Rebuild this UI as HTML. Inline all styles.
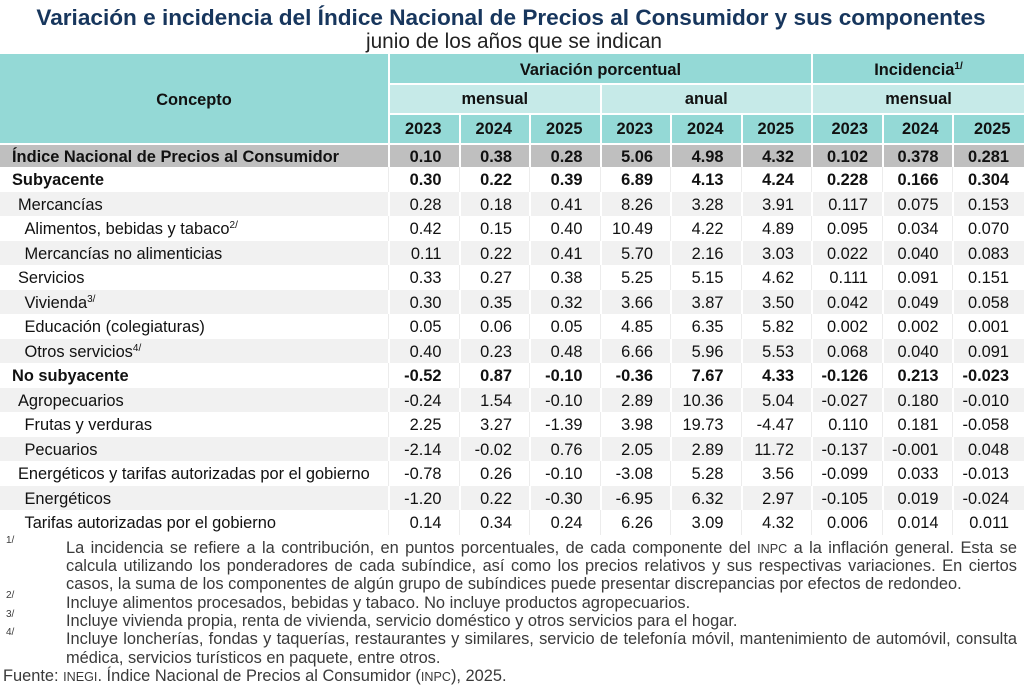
<!DOCTYPE html>
<html lang="es">
<head>
<meta charset="utf-8">
<style>
html,body{margin:0;padding:0}
body{width:1024px;height:689px;overflow:hidden;background:#fff;font-family:"Liberation Sans",Arial,Helvetica,sans-serif;color:#111;position:relative}
.a{position:absolute;white-space:nowrap}
.title{left:0;top:5.2px;width:1022px;text-align:center;font-size:22.6px;line-height:26px;font-weight:bold;color:#17365d}
.sub{left:0;top:30.2px;width:1028px;text-align:center;font-size:20.8px;line-height:24px;color:#222}
.hd{position:absolute;background:#94d9d6;font-weight:bold;font-size:16.4px;text-align:center;box-sizing:border-box;white-space:nowrap;color:#111}
.lt{background:#c6eae8}
.yr{top:114.5px;height:28.5px;line-height:28.5px;padding-top:.5px;text-align:right;padding-right:17px}
.yi{padding-right:13.5px}
sup{font-size:10px;line-height:0;vertical-align:6px}
.r{position:absolute;left:0;width:1024px;height:24.5px;line-height:24.5px;font-size:16.4px}
.r div{position:absolute;top:0;height:100%;box-sizing:border-box;white-space:nowrap;padding-top:1px}
.r .n{left:0;width:389px}
.r .v{width:71.5px;text-align:right;padding-right:18px}
.r .vi{padding-right:14.5px}
.g{background:#f1f1f1}
.w{background:#fff}
.k{background:#bfbfbf}
.g .v,.k .v{border-left:2px solid #fff}
.w .v{border-left:1px solid #ececec}
.b{font-weight:bold}
.c1{left:388px}.c2{left:458.5px}.c3{left:529px}.c4{left:599.5px}.c5{left:670px}.c6{left:740.5px}.c7{left:811px}.c8{left:881.5px}.c9{left:952px}
.i0{padding-left:12px}.i1{padding-left:18px}.i2{padding-left:24.5px}
.fn{position:absolute;left:66px;width:951px;font-size:16.4px;line-height:18px;color:#3a3a3a;white-space:nowrap}
.j{text-align:justify;text-align-last:justify;white-space:normal;height:18px;overflow:hidden}
.mk{position:absolute;left:6px;font-size:10px;line-height:12px;color:#3a3a3a}
.sc{font-size:12.6px}
</style>
</head>
<body>

<div class="a title">Variación e incidencia del Índice Nacional de Precios al Consumidor y sus componentes</div>
<div class="a sub">junio de los años que se indican</div>

<!-- Header -->
<div class="hd" style="left:0;top:54px;width:388px;height:89px;line-height:89px;padding-top:2px">Concepto</div>
<div class="hd" style="left:390px;top:54px;width:421px;height:29px;line-height:29px;padding-top:2px">Variación porcentual</div>
<div class="hd" style="left:813px;top:54px;width:211px;height:29px;line-height:29px;padding-top:2px">Incidencia<sup>1/</sup></div>
<div class="hd lt" style="left:390px;top:84.5px;width:209.5px;height:28.5px;line-height:28.5px;padding-top:.5px">mensual</div>
<div class="hd lt" style="left:601.5px;top:84.5px;width:209.5px;height:28.5px;line-height:28.5px;padding-top:.5px">anual</div>
<div class="hd lt" style="left:813px;top:84.5px;width:211px;height:28.5px;line-height:28.5px;padding-top:.5px">mensual</div>

<div class="hd yr" style="left:390px;width:68.5px">2023</div>
<div class="hd yr" style="left:460.5px;width:68.5px">2024</div>
<div class="hd yr" style="left:531px;width:68.5px">2025</div>
<div class="hd yr" style="left:601.5px;width:68.5px">2023</div>
<div class="hd yr" style="left:672px;width:68.5px">2024</div>
<div class="hd yr" style="left:742.5px;width:68.5px">2025</div>
<div class="hd yr yi" style="left:813px;width:68.5px">2023</div>
<div class="hd yr yi" style="left:883.5px;width:68.5px">2024</div>
<div class="hd yr yi" style="left:954px;width:70px">2025</div>

<!-- Rows -->
<div class="r k b" style="top:144.5px;height:22.3px;line-height:22.3px"><div class="n i0" style="padding-top:1.5px">Índice Nacional de Precios al Consumidor</div><div class="v c1" style="padding-top:1.5px">0.10</div><div class="v c2" style="padding-top:1.5px">0.38</div><div class="v c3" style="padding-top:1.5px">0.28</div><div class="v c4" style="padding-top:1.5px">5.06</div><div class="v c5" style="padding-top:1.5px">4.98</div><div class="v c6" style="padding-top:1.5px">4.32</div><div class="v vi c7" style="padding-top:1.5px">0.102</div><div class="v vi c8" style="padding-top:1.5px">0.378</div><div class="v vi c9" style="padding-top:1.5px">0.281</div></div>

<div class="r w b" style="top:167.3px"><div class="n i0">Subyacente</div><div class="v c1">0.30</div><div class="v c2">0.22</div><div class="v c3">0.39</div><div class="v c4">6.89</div><div class="v c5">4.13</div><div class="v c6">4.24</div><div class="v vi c7">0.228</div><div class="v vi c8">0.166</div><div class="v vi c9">0.304</div></div>

<div class="r g" style="top:191.8px"><div class="n i1">Mercancías</div><div class="v c1">0.28</div><div class="v c2">0.18</div><div class="v c3">0.41</div><div class="v c4">8.26</div><div class="v c5">3.28</div><div class="v c6">3.91</div><div class="v vi c7">0.117</div><div class="v vi c8">0.075</div><div class="v vi c9">0.153</div></div>

<div class="r w" style="top:216.3px"><div class="n i2">Alimentos, bebidas y tabaco<sup>2/</sup></div><div class="v c1">0.42</div><div class="v c2">0.15</div><div class="v c3">0.40</div><div class="v c4">10.49</div><div class="v c5">4.22</div><div class="v c6">4.89</div><div class="v vi c7">0.095</div><div class="v vi c8">0.034</div><div class="v vi c9">0.070</div></div>

<div class="r g" style="top:240.8px"><div class="n i2">Mercancías no alimenticias</div><div class="v c1">0.11</div><div class="v c2">0.22</div><div class="v c3">0.41</div><div class="v c4">5.70</div><div class="v c5">2.16</div><div class="v c6">3.03</div><div class="v vi c7">0.022</div><div class="v vi c8">0.040</div><div class="v vi c9">0.083</div></div>

<div class="r w" style="top:265.3px"><div class="n i1">Servicios</div><div class="v c1">0.33</div><div class="v c2">0.27</div><div class="v c3">0.38</div><div class="v c4">5.25</div><div class="v c5">5.15</div><div class="v c6">4.62</div><div class="v vi c7">0.111</div><div class="v vi c8">0.091</div><div class="v vi c9">0.151</div></div>

<div class="r g" style="top:289.8px"><div class="n i2">Vivienda<sup>3/</sup></div><div class="v c1">0.30</div><div class="v c2">0.35</div><div class="v c3">0.32</div><div class="v c4">3.66</div><div class="v c5">3.87</div><div class="v c6">3.50</div><div class="v vi c7">0.042</div><div class="v vi c8">0.049</div><div class="v vi c9">0.058</div></div>

<div class="r w" style="top:314.3px"><div class="n i2">Educación (colegiaturas)</div><div class="v c1">0.05</div><div class="v c2">0.06</div><div class="v c3">0.05</div><div class="v c4">4.85</div><div class="v c5">6.35</div><div class="v c6">5.82</div><div class="v vi c7">0.002</div><div class="v vi c8">0.002</div><div class="v vi c9">0.001</div></div>

<div class="r g" style="top:338.8px"><div class="n i2">Otros servicios<sup>4/</sup></div><div class="v c1">0.40</div><div class="v c2">0.23</div><div class="v c3">0.48</div><div class="v c4">6.66</div><div class="v c5">5.96</div><div class="v c6">5.53</div><div class="v vi c7">0.068</div><div class="v vi c8">0.040</div><div class="v vi c9">0.091</div></div>

<div class="r w b" style="top:363.3px"><div class="n i0">No subyacente</div><div class="v c1">-0.52</div><div class="v c2">0.87</div><div class="v c3">-0.10</div><div class="v c4">-0.36</div><div class="v c5">7.67</div><div class="v c6">4.33</div><div class="v vi c7">-0.126</div><div class="v vi c8">0.213</div><div class="v vi c9">-0.023</div></div>

<div class="r g" style="top:387.8px"><div class="n i1">Agropecuarios</div><div class="v c1">-0.24</div><div class="v c2">1.54</div><div class="v c3">-0.10</div><div class="v c4">2.89</div><div class="v c5">10.36</div><div class="v c6">5.04</div><div class="v vi c7">-0.027</div><div class="v vi c8">0.180</div><div class="v vi c9">-0.010</div></div>

<div class="r w" style="top:412.3px"><div class="n i2">Frutas y verduras</div><div class="v c1">2.25</div><div class="v c2">3.27</div><div class="v c3">-1.39</div><div class="v c4">3.98</div><div class="v c5">19.73</div><div class="v c6">-4.47</div><div class="v vi c7">0.110</div><div class="v vi c8">0.181</div><div class="v vi c9">-0.058</div></div>

<div class="r g" style="top:436.8px"><div class="n i2">Pecuarios</div><div class="v c1">-2.14</div><div class="v c2">-0.02</div><div class="v c3">0.76</div><div class="v c4">2.05</div><div class="v c5">2.89</div><div class="v c6">11.72</div><div class="v vi c7">-0.137</div><div class="v vi c8">-0.001</div><div class="v vi c9">0.048</div></div>

<div class="r w" style="top:461.3px"><div class="n i1">Energéticos y tarifas autorizadas por el gobierno</div><div class="v c1">-0.78</div><div class="v c2">0.26</div><div class="v c3">-0.10</div><div class="v c4">-3.08</div><div class="v c5">5.28</div><div class="v c6">3.56</div><div class="v vi c7">-0.099</div><div class="v vi c8">0.033</div><div class="v vi c9">-0.013</div></div>

<div class="r g" style="top:485.8px"><div class="n i2">Energéticos</div><div class="v c1">-1.20</div><div class="v c2">0.22</div><div class="v c3">-0.30</div><div class="v c4">-6.95</div><div class="v c5">6.32</div><div class="v c6">2.97</div><div class="v vi c7">-0.105</div><div class="v vi c8">0.019</div><div class="v vi c9">-0.024</div></div>

<div class="r w" style="top:510.3px"><div class="n i2">Tarifas autorizadas por el gobierno</div><div class="v c1">0.14</div><div class="v c2">0.34</div><div class="v c3">0.24</div><div class="v c4">6.26</div><div class="v c5">3.09</div><div class="v c6">4.32</div><div class="v vi c7">0.006</div><div class="v vi c8">0.014</div><div class="v vi c9">0.011</div></div>

<!-- Footnotes -->
<div class="mk" style="top:535.2px">1/</div>
<div class="fn j" style="top:538.5px">La incidencia se refiere a la contribución, en puntos porcentuales, de cada componente del <span class="sc">INPC</span> a la inflación general. Esta se</div>
<div class="fn j" style="top:556.9px">calcula utilizando los ponderadores de cada subíndice, así como los precios relativos y sus respectivas variaciones. En ciertos</div>
<div class="fn" style="top:575.2px">casos, la suma de los componentes de algún grupo de subíndices puede presentar discrepancias por efectos de redondeo.</div>
<div class="mk" style="top:590.3px">2/</div>
<div class="fn" style="top:593.6px">Incluye alimentos procesados, bebidas y tabaco. No incluye productos agropecuarios.</div>
<div class="mk" style="top:608.6px">3/</div>
<div class="fn" style="top:611.9px">Incluye vivienda propia, renta de vivienda, servicio doméstico y otros servicios para el hogar.</div>
<div class="mk" style="top:627px">4/</div>
<div class="fn j" style="top:630.3px">Incluye loncherías, fondas y taquerías, restaurantes y similares, servicio de telefonía móvil, mantenimiento de automóvil, consulta</div>
<div class="fn" style="top:648.6px">médica, servicios turísticos en paquete, entre otros.</div>
<div class="fn" style="top:667px;left:3px;width:auto">Fuente: <span class="sc">INEGI</span>. Índice Nacional de Precios al Consumidor (<span class="sc">INPC</span>), 2025.</div>

</body>
</html>
